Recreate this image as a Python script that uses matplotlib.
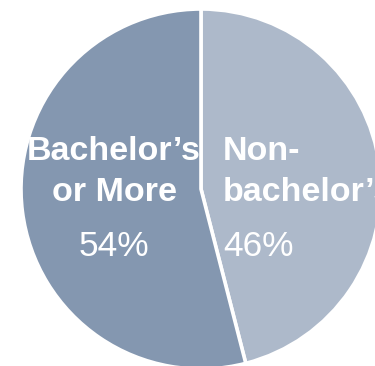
import matplotlib
matplotlib.use("Agg")
import matplotlib.pyplot as plt

# Share of workers by education
labels = ["Non-\nbachelor’s", "Bachelor’s\nor More"]
shares = [46, 54]
colors = ["#ADB9CA", "#8497B0"]

W, H = 375, 366
fig = plt.figure(figsize=(W / 100, H / 100), dpi=100)
ax = fig.add_axes([0, 0, 1, 1])

cx, cy, r = 201, H - 189, 180
ax.pie(shares, colors=colors, startangle=90, counterclock=False,
       center=(cx, cy), radius=r, frame=True,
       wedgeprops=dict(edgecolor="white", linewidth=2.6))
ax.set_xlim(0, W)
ax.set_ylim(0, H)
ax.set_aspect("equal")
ax.axis("off")

font = "Liberation Sans"
size = 24.5
# left slice label: centred block
lx = 114
for i, line in enumerate(labels[1].split("\n")):
    ax.text(lx, H - (160 + 41 * i), line, ha="center", va="baseline",
            fontsize=size, fontweight="bold", color="white", family=font)
ax.text(lx, H - 256, f"{shares[1]}%", ha="center", va="baseline",
        fontsize=size + 1, color="white", family=font)

# right slice label: left-aligned block
rx = 223
for i, line in enumerate(labels[0].split("\n")):
    ax.text(rx, H - (160 + 41 * i), line, ha="left", va="baseline",
            fontsize=size, fontweight="bold", color="white", family=font)
ax.text(rx, H - 256, f"{shares[0]}%", ha="left", va="baseline",
        fontsize=size + 1, color="white", family=font)

fig.savefig("out.png", dpi=100)
